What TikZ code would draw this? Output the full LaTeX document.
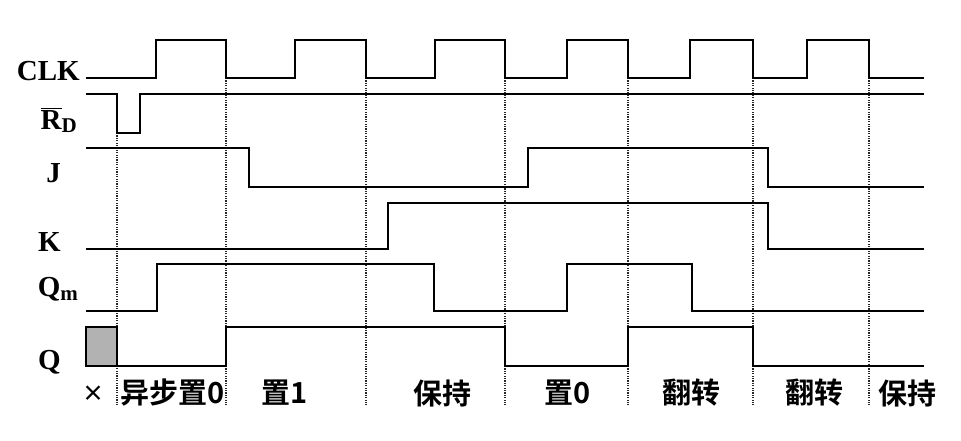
\documentclass[tikz,border=0pt]{standalone}
\usepackage{fontspec}
\setmainfont{Liberation Serif}
\newfontfamily\cjk{Noto Sans CJK SC Bold}
\begin{document}
\begin{tikzpicture}[x=1pt,y=-1pt,
  sig/.style={line width=2.8pt,line join=miter},
  guide/.style={line width=1.4pt,dash pattern=on 1.2pt off 1.2pt,black!85},
  lab/.style={font=\fontsize{29}{29}\selectfont\bfseries,inner sep=0pt,anchor=base east},
  zh/.style={font=\cjk\fontsize{29}{29}\selectfont,inner sep=0pt,anchor=center}]
\useasboundingbox (0,0) rectangle (961,440);
% guide lines
\draw[guide] (117,133) -- (117,405);
\foreach \x in {226,366,505,628,753,869} \draw[guide] (\x,78) -- (\x,405);
% CLK
\draw[sig] (86,78) -- (156,78) -- (156,40) -- (226,40) -- (226,78)
  -- (295,78) -- (295,40) -- (366,40) -- (366,78)
  -- (435,78) -- (435,40) -- (505,40) -- (505,78)
  -- (567,78) -- (567,40) -- (628,40) -- (628,78)
  -- (690,78) -- (690,40) -- (753,40) -- (753,78)
  -- (807,78) -- (807,40) -- (869,40) -- (869,78) -- (924,78);
% RD
\draw[sig] (86,94) -- (117,94) -- (117,133) -- (140,133) -- (140,94) -- (924,94);
% J
\draw[sig] (86,148) -- (249,148) -- (249,187) -- (528,187) -- (528,148) -- (768,148) -- (768,187) -- (924,187);
% K
\draw[sig] (86,249) -- (388,249) -- (388,203) -- (768,203) -- (768,249) -- (924,249);
% Qm
\draw[sig] (86,311) -- (157,311) -- (157,264) -- (434,264) -- (434,311) -- (567,311) -- (567,264) -- (692,264) -- (692,311) -- (924,311);
% Q
\draw[line width=2.6pt,fill=black!30] (86,327) rectangle (117,366);
\draw[sig] (117,366) -- (226,366) -- (226,327) -- (505,327) -- (505,366) -- (628,366) -- (628,327) -- (753,327) -- (753,366) -- (924,366);
% labels
\node[lab] (lclk) at (80,80) {CLK};
\node[lab] (lrd) at (77,129) {$\overline{\hbox{\bfseries R}}$\raisebox{-0.3ex}{\fontsize{21}{21}\selectfont\bfseries D}};
\node[lab] (lj) at (61,182) {J};
\node[lab] (lk) at (61,251) {K};
\node[lab] (lqm) at (78,296) {Q\raisebox{-0.3ex}{\fontsize{21}{21}\selectfont\bfseries m}};
\node[lab] (lq) at (61,369) {Q};
\node[font=\cjk\fontsize{22}{22}\selectfont,inner sep=0pt] (lx) at (93,394) {×};
\node[zh] (l1) at (173,393) {异步置0};
\node[zh] (l2) at (285,393) {置1};
\node[zh] (l3) at (442,393) {保持};
\node[zh] (l4) at (568,393) {置0};
\node[zh] (l5) at (691,393) {翻转};
\node[zh] (l6) at (814,393) {翻转};
\node[zh] (l7) at (907,393) {保持};
\end{tikzpicture}
\end{document}
